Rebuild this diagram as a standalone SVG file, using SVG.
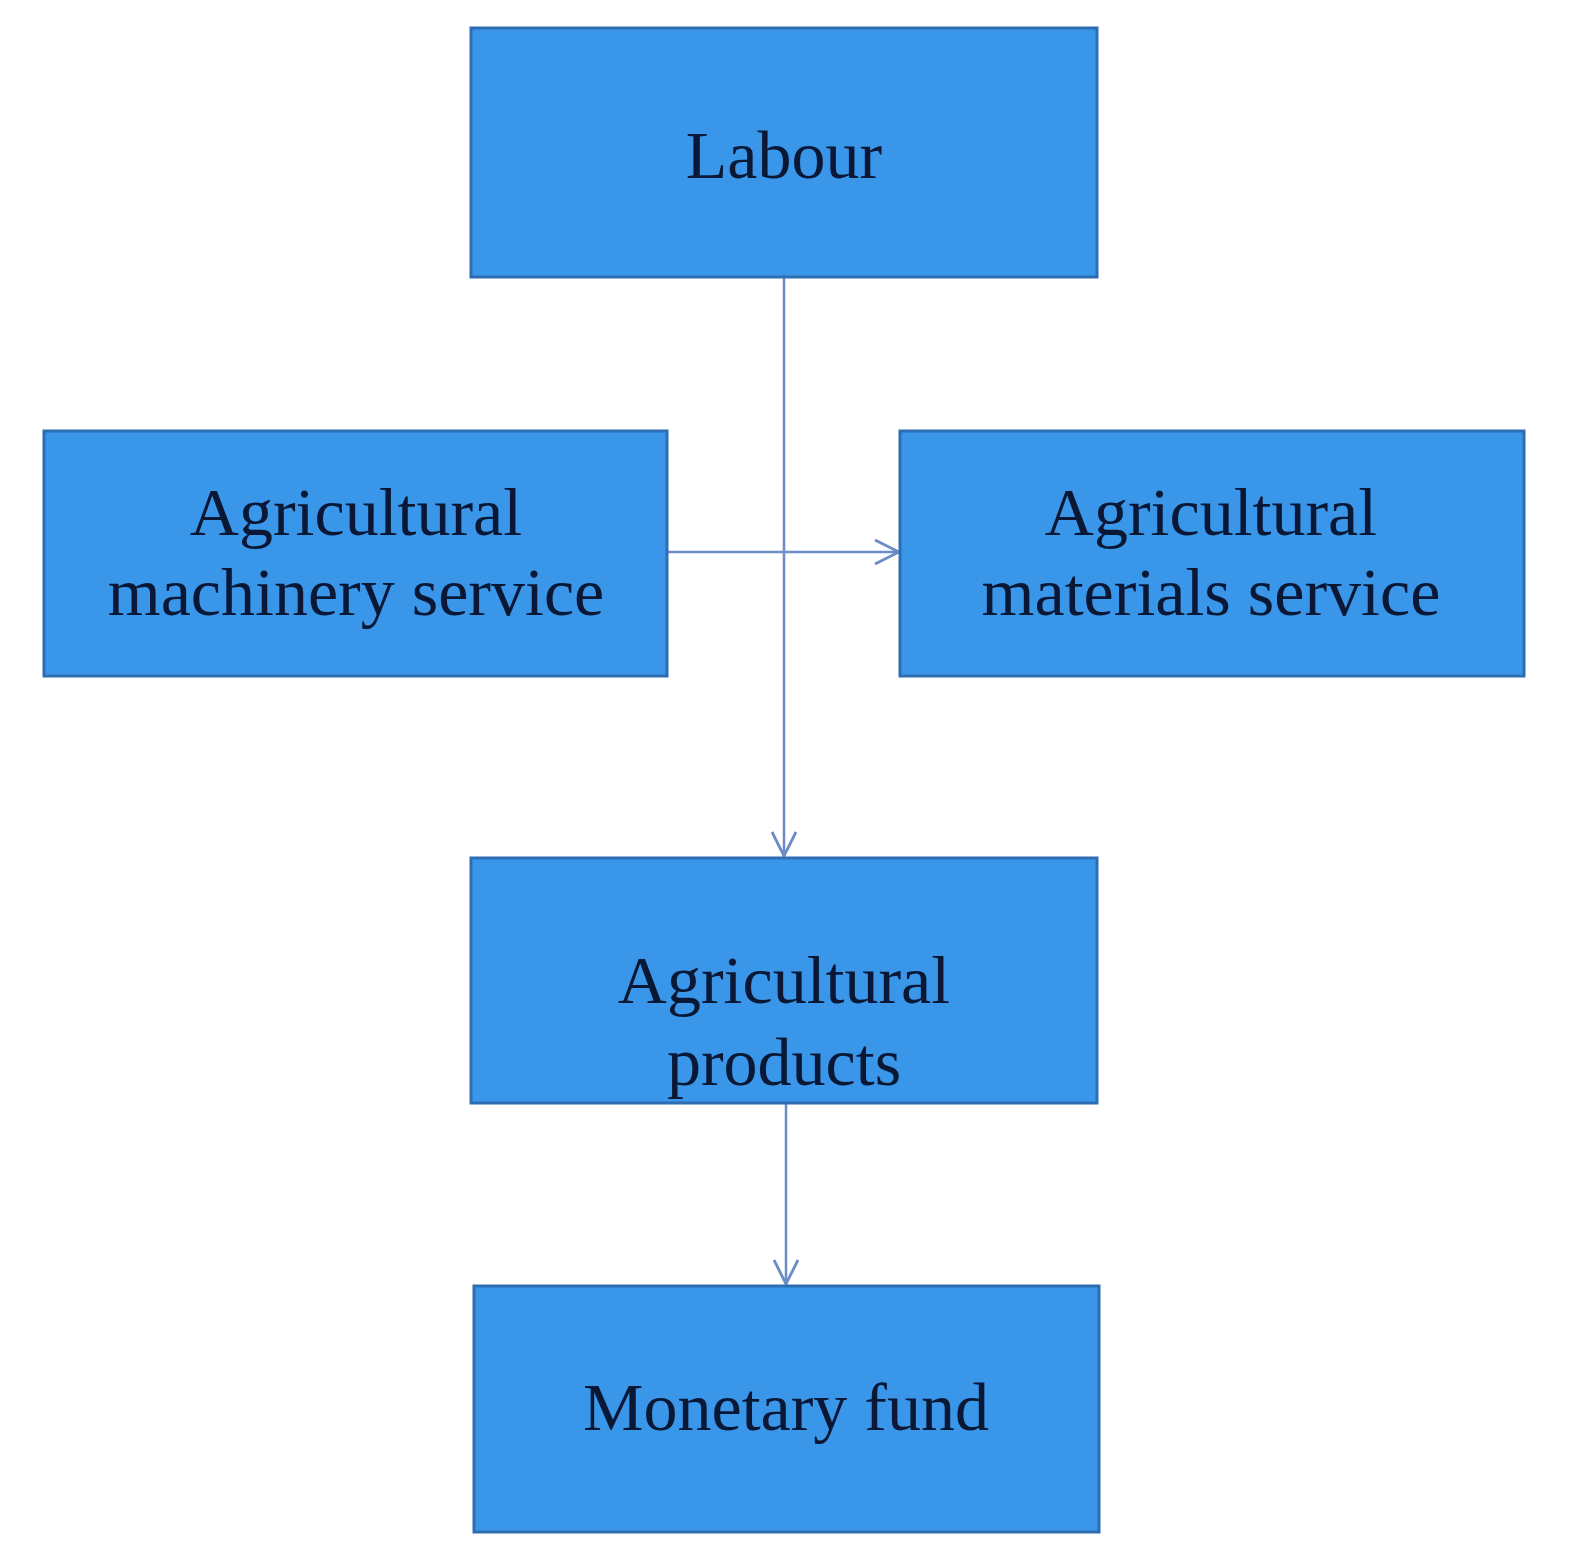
<svg xmlns="http://www.w3.org/2000/svg" width="1571" height="1567" viewBox="0 0 1571 1567">
<style>
.box{fill:#3a96e8;stroke:#2d6eb3;stroke-width:3}
.lbl{font-family:"Liberation Serif","Times New Roman",serif;font-size:68px;fill:#0a1836;text-anchor:middle}
.con{stroke:#6b8cc6;stroke-width:2.5;fill:none}
</style>
<defs>
<marker id="arr" viewBox="0 0 30 30" refX="28" refY="15" markerWidth="30" markerHeight="30" markerUnits="userSpaceOnUse" orient="auto">
<path d="M4,3 L28,15 L4,27" fill="none" stroke="#6b8cc6" stroke-width="2.8"/>
</marker>
</defs>
<rect width="1571" height="1567" fill="#ffffff"/>
<g id="connectors">
<line class="con" x1="784" y1="277" x2="784" y2="856" marker-end="url(#arr)"/>
<line class="con" x1="667" y1="552" x2="899" y2="552" marker-end="url(#arr)"/>
<line class="con" x1="786" y1="1103" x2="786" y2="1284" marker-end="url(#arr)"/>
</g>
<g id="labour">
<rect class="box" x="471" y="28" width="626" height="249"/>
<text class="lbl" x="784" y="178">Labour</text>
</g>
<g id="machinery">
<rect class="box" x="44" y="431" width="623" height="245"/>
<text class="lbl" x="356" y="535">Agricultural</text>
<text class="lbl" x="356" y="615">machinery service</text>
</g>
<g id="materials">
<rect class="box" x="900" y="431" width="624" height="245"/>
<text class="lbl" x="1211" y="535">Agricultural</text>
<text class="lbl" x="1211" y="615">materials service</text>
</g>
<g id="products">
<rect class="box" x="471" y="858" width="626" height="245"/>
<text class="lbl" x="784" y="1003">Agricultural</text>
<text class="lbl" x="784" y="1085">products</text>
</g>
<g id="monetary">
<rect class="box" x="474" y="1286" width="625" height="246"/>
<text class="lbl" x="786" y="1430">Monetary fund</text>
</g>
</svg>
